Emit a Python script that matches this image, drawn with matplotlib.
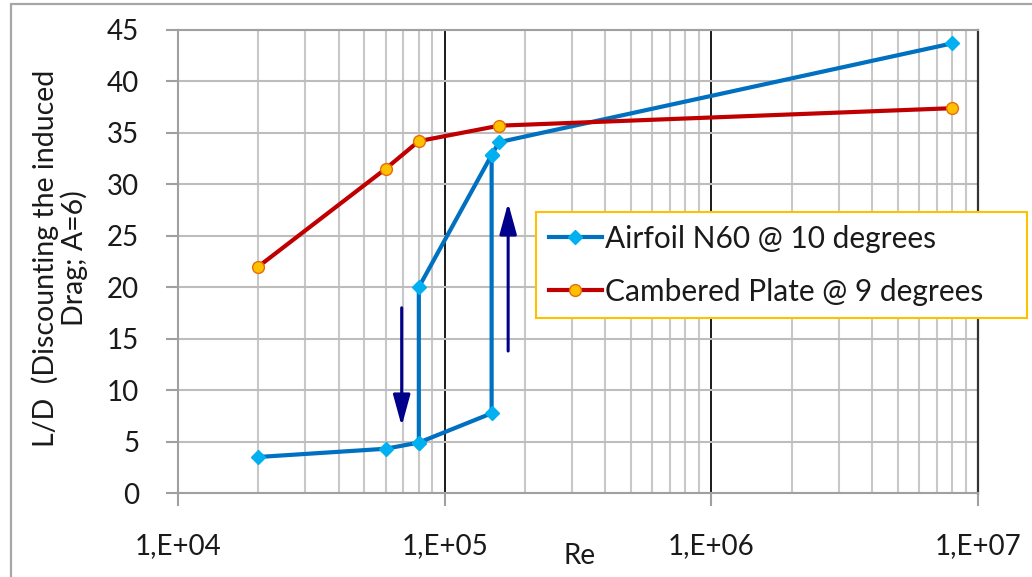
import numpy as np
import matplotlib
matplotlib.use("Agg")
import matplotlib.pyplot as plt
from matplotlib.patches import Rectangle
from matplotlib.ticker import FuncFormatter, LogLocator, MultipleLocator

# Airfoil N60 @ 10 deg: increasing-Re branch and decreasing-Re (hysteresis) branch
airfoil_re_up = [2e4, 6e4, 8e4, 1.5e5, 1.5e5, 1.6e5, 8e6]
airfoil_ld_up = [3.5, 4.3, 4.9, 7.75, 32.85, 34.1, 43.7]
airfoil_re_down = [1.5e5, 8e4, 8e4]
airfoil_ld_down = [32.85, 20.0, 4.9]

# Cambered plate @ 9 deg
plate_re = [2e4, 6e4, 8e4, 1.6e5, 8e6]
plate_ld = [22.0, 31.5, 34.2, 35.7, 37.4]

# Hysteresis direction arrows: (Re, L/D start) -> (Re, L/D end)
arrow_down = ((6.9e4, 18.0), (6.9e4, 6.5))
arrow_up = ((1.73e5, 13.8), (1.73e5, 28.2))

label_airfoil = "Airfoil N60 @ 10 degrees"
label_plate = "Cambered Plate @ 9 degrees"
ylabel_text = "L/D  (Discounting the induced\nDrag; A=6)"
xlabel_text = "Re"

W, H = 1032, 577
FS = 20
plt.rcParams["font.family"] = ["Lato", "DejaVu Sans"]
fig = plt.figure(figsize=(W / 100, H / 100), dpi=100)

def px(x0, y0, x1, y1):
    return [x0 / W, 1 - y1 / H, (x1 - x0) / W, (y1 - y0) / H]

ax = fig.add_axes(px(178, 30, 978, 493))

blue = "#0070C0"
blue_mk = "#00B0F0"
red = "#C00000"
gold = "#FFC000"
navy = "#00008B"

ax.plot(airfoil_re_up, airfoil_ld_up, color=blue, lw=3.0, marker="D", ms=7,
        mfc=blue_mk, mec=blue_mk, label=label_airfoil, zorder=4)
ax.plot(airfoil_re_down, airfoil_ld_down, color=blue, lw=3.0, marker="D", ms=7,
        mfc=blue_mk, mec=blue_mk, zorder=4)
ax.plot(plate_re, plate_ld, color=red, lw=3.0, marker="o", ms=8.5,
        mfc=gold, mec="#E46C0A", mew=1.0, label=label_plate, zorder=5)

for (s, e) in (arrow_down, arrow_up):
    ax.annotate("", xy=e, xytext=s,
                arrowprops=dict(arrowstyle="-|>,head_length=0.95,head_width=0.26",
                                color=navy, lw=2.2, mutation_scale=20,
                                shrinkA=0, shrinkB=0), zorder=6)

ax.set_xscale("log")
ax.set_xlim(1e4, 1e7)
ax.set_ylim(0, 45)
ax.yaxis.set_major_locator(MultipleLocator(5))
ax.xaxis.set_major_locator(LogLocator(base=10, numticks=10))
ax.xaxis.set_minor_locator(LogLocator(base=10, subs=np.arange(2, 10), numticks=20))
ax.xaxis.set_major_formatter(FuncFormatter(lambda v, p: f"1,E+{int(round(np.log10(v))):02d}"))
ax.xaxis.set_minor_formatter(FuncFormatter(lambda v, p: ""))

ax.grid(which="minor", axis="x", color="#C8C8C8", lw=1.5, zorder=0)
ax.grid(which="major", axis="x", color="#1A1A1A", lw=1.4, zorder=0)
ax.grid(which="major", axis="y", color="#BDBDBD", lw=1.5, zorder=0)
ax.set_axisbelow(True)

for side in ("left", "bottom", "top"):
    ax.spines[side].set_color("#A0A0A0")
    ax.spines[side].set_linewidth(1.5)
ax.spines["right"].set_color("#333333")
ax.spines["right"].set_linewidth(1.6)

ax.tick_params(axis="both", which="major", direction="out", color="#A0A0A0",
               width=1.5, length=9, labelsize=FS, labelcolor="#1a1a1a")
ax.tick_params(axis="x", which="major", pad=20)
ax.tick_params(axis="y", which="major", pad=19)
ax.tick_params(axis="x", which="minor", length=0)

fig.text(60 / W, 1 - 258 / H, ylabel_text, rotation=90, ha="center", va="center",
         fontsize=20.5, color="#1a1a1a", multialignment="center", linespacing=1.05)
fig.text(580 / W, 1 - 556 / H, xlabel_text, ha="center", va="center",
         fontsize=FS, color="#1a1a1a")

# legend box spans past the plot's right edge
leg = fig.legend(loc="upper left",
                 bbox_to_anchor=(536 / W, 1 - 317 / H, 491 / W, 105 / H),
                 bbox_transform=fig.transFigure, mode="expand", fontsize=21.5,
                 frameon=True, fancybox=False, handlelength=1.8, handletextpad=0.08,
                 borderpad=0.42, labelspacing=0.85, borderaxespad=0)
leg.get_frame().set_edgecolor(gold)
leg.get_frame().set_linewidth(1.5)
leg.get_frame().set_alpha(1)
for t in leg.get_texts():
    t.set_color("#1a1a1a")

fig.patches.append(Rectangle((11 / W, -0.1), 1.2, 1 - 4 / H + 0.1,
                             transform=fig.transFigure, fill=False,
                             edgecolor="#A6A6A6", lw=1.6))

fig.savefig("out.png", dpi=100)
